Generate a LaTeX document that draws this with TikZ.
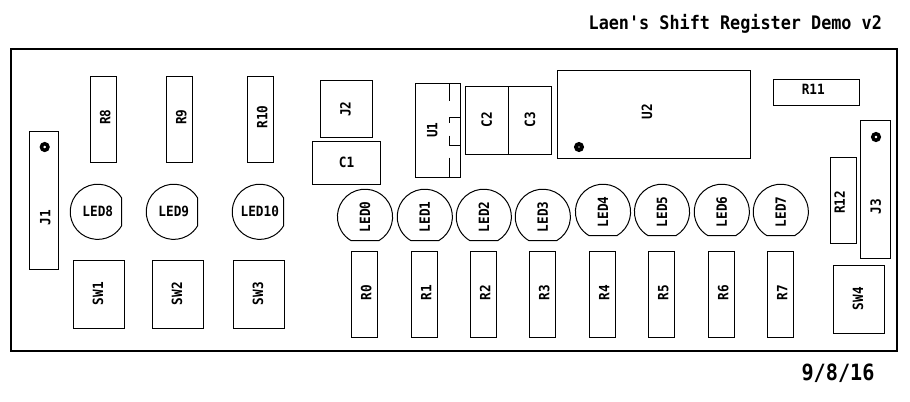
\documentclass[tikz,border=0pt]{standalone}
\usepackage{fontspec}
\setmonofont{DejaVu Sans Mono}[FakeStretch=0.9]
\usepackage{tikz}
\newcommand{\ledrim}[2]{\draw[outline] (#1.center) ++(#2:20.7pt) arc[start angle=#2, delta angle=300, radius=20.7pt] -- cycle;}

\begin{document}
\begin{tikzpicture}[
    x=0.75pt, y=-0.75pt,
    outline/.style={line width=0.75pt},
    refdes/.style={font=\ttfamily\bfseries\fontsize{10.6}{11}\selectfont, inner sep=0pt},
    part/.style={rectangle, draw, outline, refdes, outer sep=0pt},
    vtag/.style 2 args={label={[refdes, name=#1name, shift={#2}, rotate=90]center:#1}},
    htag/.style 2 args={label={[refdes, name=#1name, shift={#2}]center:#1}},
    resbody/.style={part, minimum width=19.8pt, minimum height=64.5pt},
    resistor/.style={resbody, vtag={#1}{(1.8,-2.3)}},
    switch/.style={part, minimum width=38.55pt, minimum height=51pt, vtag={#1}{(-1,-0.6)}},
    capacitor/.style={part, minimum width=32.4pt, minimum height=51pt, vtag={#1}{(0,-0.5)}},
    header/.style={part, minimum width=22.4pt, minimum height=103.3pt},
    ledtext/.style={refdes},
    pinmark/.style={circle, draw, line width=2.6pt, inner sep=0pt, minimum size=4.9pt},
    board/.style={rectangle, draw, line width=1.5pt, inner sep=0pt, outer sep=0pt, minimum width=664.4pt, minimum height=226.5pt},
    caption/.style={inner sep=0pt, font=\ttfamily\bfseries}
]
    \useasboundingbox (0,0) rectangle (910,401);

    \node[board] (pcb) at (453.8,200) {};
    \node[caption, font=\ttfamily\bfseries\fontsize{14}{15}\selectfont] (title) at (735.3,23.7) {Laen's Shift Register Demo v2};
    \node[caption, font=\ttfamily\bfseries\fontsize{16.8}{18}\selectfont] (date) at (838,373) {9/8/16};

    % connectors
    \node[header, vtag={J1}{(1.3,17.5)}] (J1) at (44,200.2) {};
    \node[pinmark] (J1pin) at (44.7,147) {};
    \node[header, vtag={J3}{(0.3,17)}] (J3) at (875.5,189.8) {};
    \node[pinmark] (J3pin) at (876,137) {};
    \node[part, minimum width=39.3pt, minimum height=43pt, vtag={J2}{(-1,0)}] (J2) at (346.5,109) {};

    % resistors
    \node[resistor=R8] (R8) at (103.5,119.3) {};
    \node[resistor=R9] (R9) at (179.5,119.3) {};
    \node[resistor=R10] (R10) at (260.5,119.3) {};
    \node[part, minimum width=64.8pt, minimum height=19.5pt, htag={R11}{(-3.2,-3.1)}] (R11) at (816.5,92.3) {};
    \node[resbody, vtag={R12}{(-3.8,2)}] (R12) at (843.5,200.3) {};
    \node[resistor=R0] (R0) at (364.5,294.8) {};
    \node[resistor=R1] (R1) at (424.3,294.8) {};
    \node[resistor=R2] (R2) at (483.3,294.8) {};
    \node[resistor=R3] (R3) at (542.5,294.8) {};
    \node[resistor=R4] (R4) at (602.5,294.8) {};
    \node[resistor=R5] (R5) at (661.5,294.8) {};
    \node[resistor=R6] (R6) at (721.5,294.8) {};
    \node[resistor=R7] (R7) at (780.5,294.8) {};

    % switches
    \node[switch=SW1] (SW1) at (99,294.3) {};
    \node[switch=SW2] (SW2) at (178,294.3) {};
    \node[switch=SW3] (SW3) at (259,294.3) {};
    \node[switch=SW4] (SW4) at (859,299.3) {};

    % capacitors
    \node[part, minimum width=51.3pt, minimum height=32.25pt] (C1) at (346.5,162.8) {C1};
    \node[capacitor=C2] (C2) at (486.8,120.3) {};
    \node[capacitor=C3] (C3) at (530,120.3) {};

    % chips
    \node[part, minimum width=34pt, minimum height=70.5pt, vtag={U1}{(-5.7,0)}] (U1) at (438,130.3) {};
    \draw[outline] (449.3,83.3) -- (449.3,100.7);
    \draw[outline] (460.7,117.7) -- (449.3,117.7) -- (449.3,123.3);
    \draw[outline] (449.3,135.7) -- (449.3,145.3) -- (460.7,145.3);
    \draw[outline] (449.3,157.7) -- (449.3,177.3);
    \node[part, minimum width=145pt, minimum height=66pt, vtag={U2}{(-7,-2.6)}] (U2) at (654,114.3) {};
    \node[pinmark, line width=3pt, minimum size=4.4pt] (U2pin) at (579,147) {};

    % leds
    \node[ledtext] (LED8) at (97.8,211.8) {LED8};
    \node[ledtext] (LED9) at (173.8,211.8) {LED9};
    \node[ledtext] (LED10) at (259.8,211.8) {LED10};
    \ledrim{LED8}{30}
    \ledrim{LED9}{30}
    \ledrim{LED10}{30}
    \node[ledtext, rotate=90] (LED0) at (365,216.8) {LED0};
    \node[ledtext, rotate=90] (LED1) at (424.8,216.8) {LED1};
    \node[ledtext, rotate=90] (LED2) at (483.8,216.8) {LED2};
    \node[ledtext, rotate=90] (LED3) at (542.8,216.8) {LED3};
    \node[ledtext, rotate=90] (LED4) at (603,211.8) {LED4};
    \node[ledtext, rotate=90] (LED5) at (662,211.8) {LED5};
    \node[ledtext, rotate=90] (LED6) at (721.8,211.8) {LED6};
    \node[ledtext, rotate=90] (LED7) at (780.8,211.8) {LED7};
    \ledrim{LED0}{-60}
    \ledrim{LED1}{-60}
    \ledrim{LED2}{-60}
    \ledrim{LED3}{-60}
    \ledrim{LED4}{-60}
    \ledrim{LED5}{-60}
    \ledrim{LED6}{-60}
    \ledrim{LED7}{-60}
\end{tikzpicture}
\end{document}
